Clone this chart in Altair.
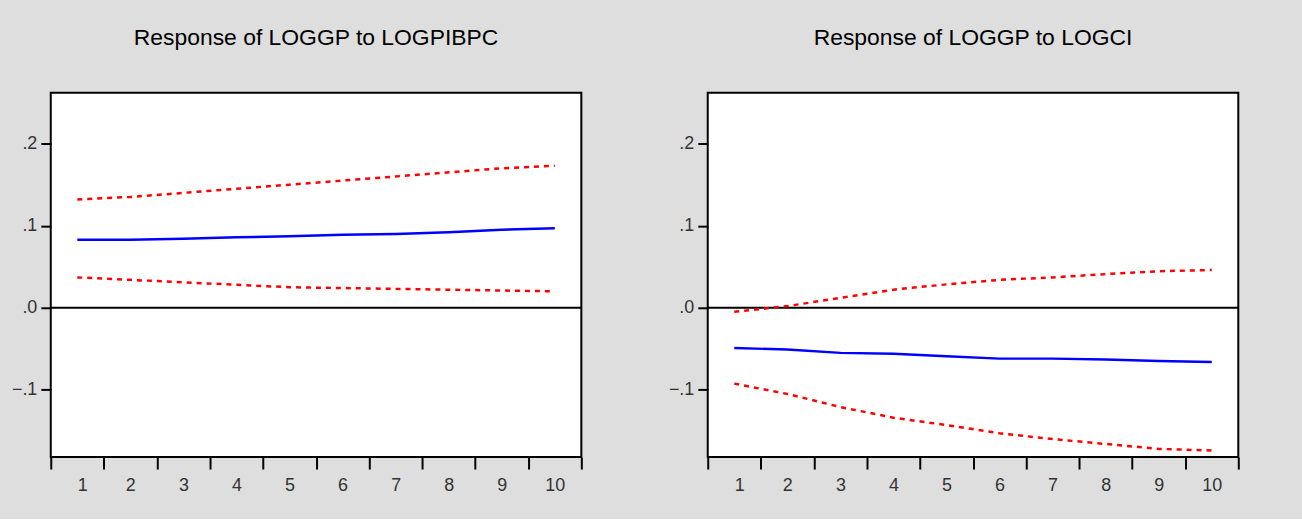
import altair as alt
import pandas as pd

periods = [1, 2, 3, 4, 5, 6, 7, 8, 9, 10]

titles = ["Response of LOGGP to LOGPIBPC", "Response of LOGGP to LOGCI"]

# Response of LOGGP to LOGPIBPC
pib_resp = [0.083, 0.083, 0.084, 0.086, 0.087, 0.089, 0.090, 0.092, 0.095, 0.097]
pib_upper = [0.132, 0.135, 0.140, 0.145, 0.150, 0.155, 0.160, 0.165, 0.170, 0.173]
pib_lower = [0.037, 0.034, 0.031, 0.028, 0.025, 0.024, 0.023, 0.022, 0.021, 0.020]

# Response of LOGGP to LOGCI
ci_resp = [-0.049, -0.051, -0.055, -0.056, -0.059, -0.062, -0.062, -0.063, -0.065, -0.066]
ci_upper = [-0.005, 0.002, 0.012, 0.022, 0.0285, 0.034, 0.037, 0.041, 0.0445, 0.046]
ci_lower = [-0.0925, -0.105, -0.121, -0.134, -0.143, -0.153, -0.160, -0.166, -0.172, -0.174]

y_ticks = [-0.1, 0.0, 0.1, 0.2]
y_domain = [-0.182, 0.262]
x_ticks = [0.5, 1.5, 2.5, 3.5, 4.5, 5.5, 6.5, 7.5, 8.5, 9.5, 10.5]

FONT = "Liberation Sans"
PW, PH = 533, 366


def panel(title, resp, upper, lower):
    df_resp = pd.DataFrame({"period": periods, "value": resp})
    df_band = pd.DataFrame({
        "period": periods * 2,
        "value": upper + lower,
        "series": ["upper"] * len(periods) + ["lower"] * len(periods),
    })
    df_zero = pd.DataFrame({"zero": [0.0]})

    x = alt.X(
        "period:Q",
        scale=alt.Scale(domain=[0.5, 10.5], nice=False, zero=False),
        axis=alt.Axis(
            values=x_ticks,
            title=None,
            grid=False,
            domain=False,
            tickSize=12,
            tickWidth=2,
            tickColor="black",
            labelOffset=PW / 20,
            labelPadding=8,
            labelFontSize=18,
            labelFont=FONT,
            labelColor="#333333",
            labelExpr="datum.value < 10 ? format(datum.value + 0.5, 'd') : ''",
        ),
    )
    y_axis = alt.Axis(
        values=y_ticks,
        title=None,
        grid=False,
        domain=False,
        tickSize=10,
        tickWidth=2,
        tickColor="black",
        labelPadding=4,
        labelFontSize=18,
        labelFont=FONT,
        labelColor="#333333",
        minExtent=40,
        maxExtent=40,
        labelExpr="replace(format(datum.value, '.1f'), '0.', '.')",
    )
    y = alt.Y("value:Q", scale=alt.Scale(domain=y_domain, nice=False, zero=False), axis=y_axis)

    zero = alt.Chart(df_zero).mark_rule(color="black", strokeWidth=2).encode(
        y=alt.Y("zero:Q", scale=alt.Scale(domain=y_domain, nice=False, zero=False), axis=y_axis)
    )
    band = alt.Chart(df_band).mark_line(
        color="#ff0000", strokeWidth=2.5, strokeDash=[5, 5]
    ).encode(x=x, y=y, detail="series:N")
    line = alt.Chart(df_resp).mark_line(color="#0000ff", strokeWidth=2.5).encode(x=x, y=y)

    return alt.layer(zero, band, line).properties(
        width=PW,
        height=PH,
        title=alt.TitleParams(
            text=title,
            fontSize=23,
            font=FONT,
            fontWeight="normal",
            color="black",
            anchor="middle",
            offset=43,
        ),
    )


left = panel(titles[0], pib_resp, pib_upper, pib_lower)
right = panel(titles[1], ci_resp, ci_upper, ci_lower)

chart = (
    alt.hconcat(left, right, spacing=84)
    .properties(
        background="#dedede",
        padding={"left": 10, "top": 25, "right": 62, "bottom": 22},
    )
    .configure_view(stroke="black", strokeWidth=2, fill="white")
)

chart.save("out.html", embed_options={"renderer": "svg", "actions": False})
